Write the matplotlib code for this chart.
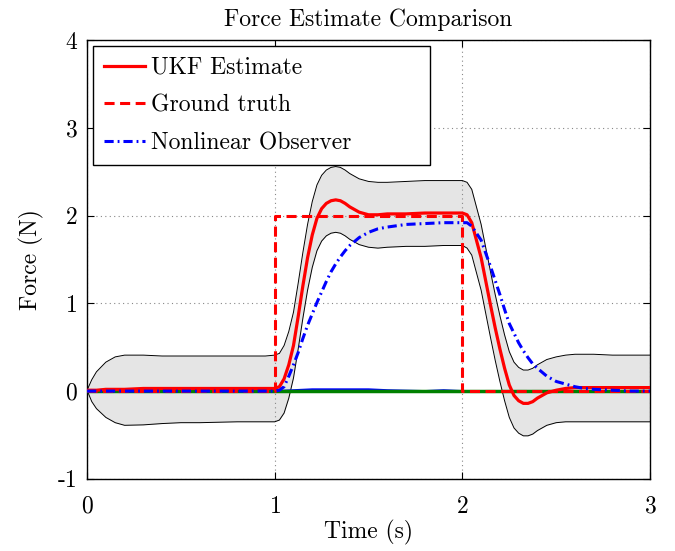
import matplotlib

matplotlib.use("Agg")
import matplotlib.pyplot as plt

plt.rcParams["font.family"] = ["cmr10", "DejaVu Serif"]
plt.rcParams["axes.unicode_minus"] = False
plt.rcParams["axes.formatter.use_mathtext"] = True

# sample times (s) shared by the UKF curve, its band and the observer
t = [0, 0.025, 0.05, 0.1, 0.15, 0.2, 0.3, 0.4, 0.5, 0.6, 0.7, 0.8, 0.9, 0.95,
     1.0, 1.025, 1.05, 1.075, 1.1, 1.125, 1.15, 1.175, 1.2, 1.225, 1.25, 1.275,
     1.3, 1.325, 1.35, 1.375, 1.4, 1.45, 1.5, 1.55, 1.6, 1.7, 1.8, 1.9, 1.95,
     2.0, 2.025, 2.05, 2.075, 2.1, 2.125, 2.15, 2.175, 2.2, 2.225, 2.25, 2.275,
     2.3, 2.325, 2.35, 2.375, 2.4, 2.45, 2.5, 2.55, 2.6, 2.65, 2.7, 2.8, 2.9, 3.0]

ukf = [0.01, 0.01, 0.01, 0.02, 0.02, 0.02, 0.03, 0.03, 0.03, 0.03, 0.03, 0.03, 0.03, 0.03,
       0.03, 0.05, 0.14, 0.30, 0.52, 0.85, 1.20, 1.52, 1.78, 1.97, 2.08, 2.14,
       2.17, 2.18, 2.17, 2.14, 2.10, 2.04, 2.01, 2.01, 2.02, 2.02, 2.03, 2.03, 2.03,
       2.03, 2.01, 1.92, 1.72, 1.52, 1.25, 0.98, 0.72, 0.48, 0.26, 0.07, -0.05,
       -0.11, -0.14, -0.14, -0.12, -0.08, -0.02, 0.01, 0.03, 0.04, 0.04, 0.04, 0.04, 0.04, 0.04]

ukf_upper = [0.01, 0.13, 0.22, 0.33, 0.39, 0.41, 0.41, 0.40, 0.40, 0.40, 0.40, 0.40, 0.40, 0.40,
             0.41, 0.43, 0.52, 0.68, 0.90, 1.23, 1.58, 1.90, 2.16, 2.35, 2.46, 2.52,
             2.55, 2.56, 2.55, 2.52, 2.48, 2.42, 2.39, 2.38, 2.38, 2.39, 2.40, 2.40, 2.40,
             2.40, 2.38, 2.30, 2.10, 1.90, 1.63, 1.36, 1.10, 0.86, 0.64, 0.45, 0.33,
             0.27, 0.24, 0.24, 0.26, 0.30, 0.36, 0.39, 0.41, 0.42, 0.42, 0.42, 0.41, 0.41, 0.41]

ukf_lower = [0.01, -0.12, -0.20, -0.30, -0.36, -0.39, -0.385, -0.37, -0.36, -0.36, -0.355, -0.35, -0.35, -0.35,
             -0.35, -0.33, -0.25, -0.08, 0.15, 0.48, 0.83, 1.15, 1.41, 1.60, 1.71, 1.77,
             1.80, 1.81, 1.80, 1.77, 1.73, 1.67, 1.64, 1.63, 1.64, 1.65, 1.65, 1.66, 1.66,
             1.66, 1.63, 1.55, 1.35, 1.15, 0.88, 0.61, 0.35, 0.11, -0.11, -0.30, -0.42,
             -0.48, -0.51, -0.51, -0.49, -0.45, -0.39, -0.36, -0.35, -0.35, -0.35, -0.35, -0.35, -0.35, -0.35]

observer = [0.0, 0.0, 0.0, 0.0, 0.0, 0.0, 0.0, 0.0, 0.0, 0.0, 0.0, 0.0, 0.0, 0.0,
            0.0, 0.01, 0.05, 0.17, 0.30, 0.44, 0.60, 0.75, 0.88, 1.01, 1.13, 1.25,
            1.36, 1.45, 1.53, 1.60, 1.66, 1.75, 1.81, 1.85, 1.87, 1.90, 1.91, 1.92, 1.92,
            1.92, 1.92, 1.88, 1.80, 1.72, 1.57, 1.42, 1.26, 1.10, 0.93, 0.77, 0.66,
            0.55, 0.46, 0.38, 0.31, 0.26, 0.17, 0.11, 0.08, 0.05, 0.03, 0.02, 0.01, 0.0, 0.0]

# ground truth step
truth_t = [0, 1, 1, 2, 2, 3]
truth_f = [0, 0, 2, 2, 0, 0]

# small traces lying on the zero line
err_t = [0, 1.0, 1.1, 1.2, 1.3, 1.4, 1.5, 1.6, 1.8, 1.9, 2.0, 2.3, 2.4, 2.5, 3.0]
err_f = [0, 0, 0.01, 0.02, 0.02, 0.02, 0.02, 0.01, 0.0, 0.01, 0.0, 0.0, -0.01, 0.0, 0.0]
zero_t = [0, 0.5, 1.0, 1.5, 2.0, 2.5, 3.0]
zero_f = [0, 0, 0, 0, 0, 0, 0]

x_ticks = [0, 1, 2, 3]
y_ticks = [-1, 0, 1, 2, 3, 4]
y_tick_labels = ["-1", "0", "1", "2", "3", "4"]

FS = 17

fig = plt.figure(figsize=(6.75, 5.51), dpi=100)
ax = fig.add_axes([0.129, 0.131, 0.834, 0.796])

ax.fill_between(t, ukf_lower, ukf_upper, color="#e5e5e5", linewidth=0, zorder=1)
ax.plot(t, ukf_upper, color="black", linewidth=0.7, zorder=2)
ax.plot(t, ukf_lower, color="black", linewidth=0.7, zorder=2)
ax.plot(err_t, err_f, color="blue", linewidth=1.5, zorder=3)
ax.plot(zero_t, zero_f, color="green", linewidth=2.5, zorder=4)
ax.plot(t, ukf, color="red", linewidth=2.3, zorder=5, label="UKF Estimate")
ax.plot(truth_t, truth_f, color="red", linewidth=2.2, linestyle=(0, (3.3, 1.8)),
        zorder=6, label="Ground truth")
ax.plot(t, observer, color="blue", linewidth=2.2, linestyle=(0, (3, 1.3, 0.6, 1.3)),
        zorder=7, label="Nonlinear Observer")

ax.set_xlim(0, 3)
ax.set_ylim(-1, 4)
ax.set_xticks(x_ticks)
ax.set_yticks(y_ticks)
ax.set_yticklabels(y_tick_labels)
ax.tick_params(direction="in", top=True, right=True, length=5, labelsize=FS)
ax.tick_params(axis="x", pad=12)
ax.tick_params(axis="y", pad=7)
ax.grid(True, color="#888888", linestyle=(0, (1, 3)), linewidth=0.8)
for s in ax.spines.values():
    s.set_linewidth(1.0)

ax.set_title("Force Estimate Comparison", fontsize=FS, pad=10)
ax.set_xlabel("Time (s)", fontsize=FS, labelpad=2)
ax.set_ylabel("Force (N)", fontsize=FS, labelpad=10)

leg = ax.legend(loc="upper left", bbox_to_anchor=(0, 0, 0.62, 1), mode="expand",
                fontsize=FS, fancybox=False, framealpha=1, edgecolor="black",
                borderaxespad=0.25, borderpad=0.45, handlelength=1.75,
                labelspacing=0.66, handletextpad=0.25)
leg.get_frame().set_linewidth(1.0)

fig.savefig("out.png", dpi=100)
